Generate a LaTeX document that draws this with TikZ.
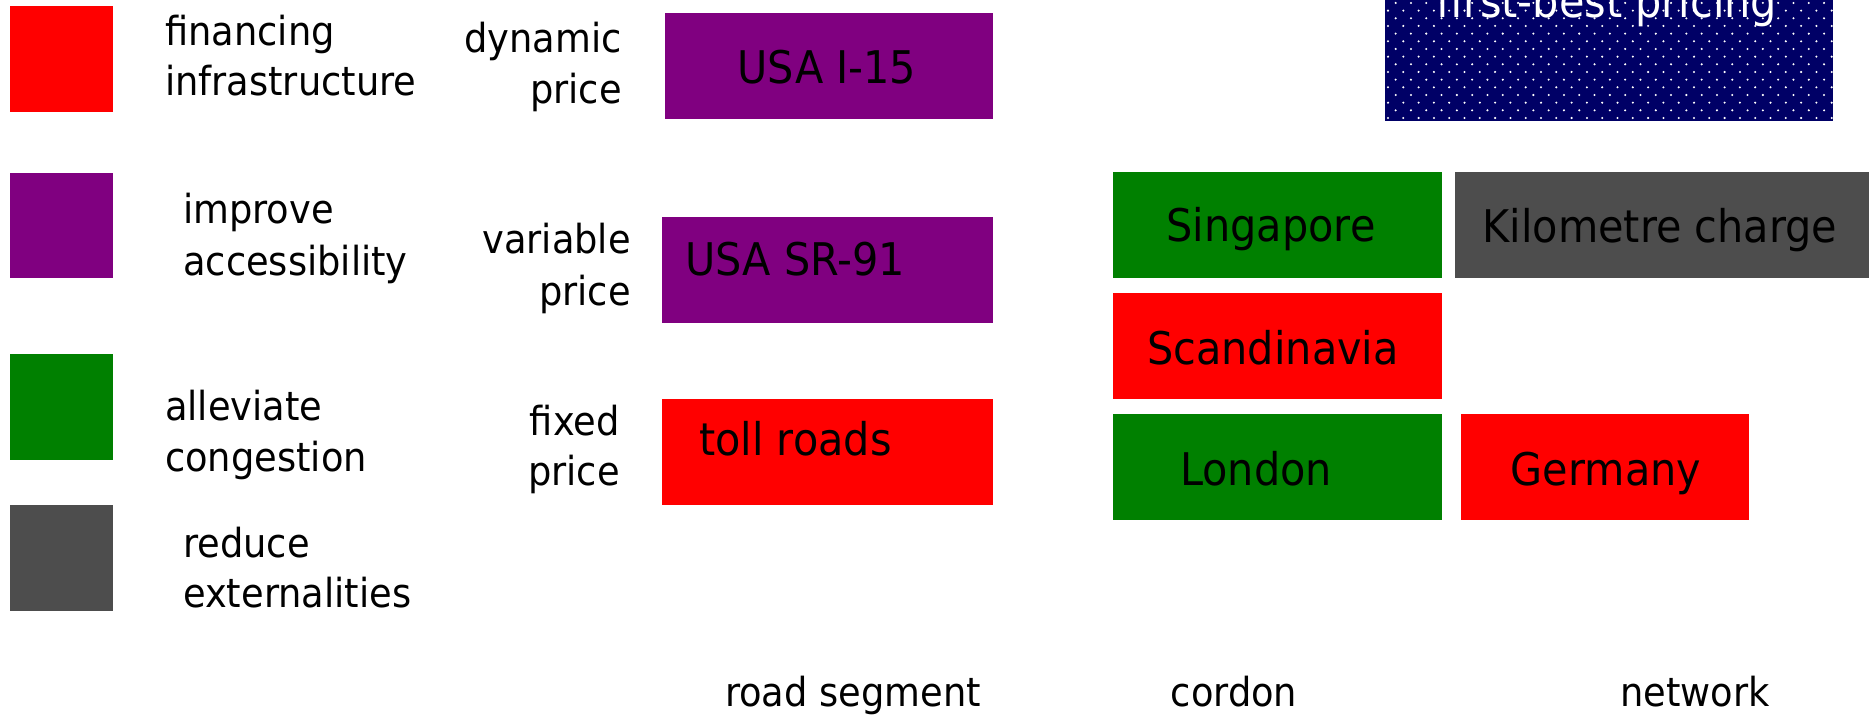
\documentclass[tikz,border=0pt]{standalone}
\usepackage{fontspec}
\setmainfont[FakeStretch=0.92]{DejaVu Sans}
\newcommand\mylblfont{\fontsize{40}{51}\selectfont}
\newcommand\myboxfont{\fontsize{45}{54}\selectfont}
\definecolor{cRed}{HTML}{FF0000}
\definecolor{cPurple}{HTML}{800080}
\definecolor{cGreen}{HTML}{008000}
\definecolor{cGray}{HTML}{4D4D4D}
\definecolor{cNavy}{HTML}{000066}
\begin{document}
\begin{tikzpicture}[x=1pt,y=-1pt,
  colbox/.style={rectangle, inner sep=0pt, outer sep=0pt, anchor=north west, draw=none},
  lbl/.style={inner sep=0pt, font=\mylblfont, text=black},
  btxt/.style={inner sep=0pt, font=\myboxfont, text=black}]
\useasboundingbox (0,0) rectangle (1869,715);

% legend squares
\node[colbox, fill=cRed,    minimum width=103pt, minimum height=106pt] (legRed)    at (10,6) {};
\node[colbox, fill=cPurple, minimum width=103pt, minimum height=105pt] (legPurple) at (10,173) {};
\node[colbox, fill=cGreen,  minimum width=103pt, minimum height=106pt] (legGreen)  at (10,354) {};
\node[colbox, fill=cGray,   minimum width=103pt, minimum height=106pt] (legGray)   at (10,505) {};

% legend labels
\node[lbl, anchor=base west] (legRedA) at (165,45) {financing};
\node[lbl, anchor=base west] (legRedB) at (165,95) {infrastructure};
\node[lbl, anchor=base west] (legPurA) at (183,223) {improve};
\node[lbl, anchor=base west] (legPurB) at (183,275) {accessibility};
\node[lbl, anchor=base west] (legGrnA) at (165,420) {alleviate};
\node[lbl, anchor=base west] (legGrnB) at (165,471) {congestion};
\node[lbl, anchor=base west] (legGryA) at (183,557) {reduce};
\node[lbl, anchor=base west] (legGryB) at (183,607) {externalities};

% price labels
\node[lbl, anchor=base east] (dynA) at (622,52) {dynamic};
\node[lbl, anchor=base east] (dynB) at (622,103) {price};
\node[lbl, anchor=base east] (varA) at (631,253) {variable};
\node[lbl, anchor=base east] (varB) at (631,305) {price};
\node[lbl, anchor=base east] (fixA) at (620,435) {fixed};
\node[lbl, anchor=base east] (fixB) at (620,485) {price};

% road segment boxes
\node[colbox, fill=cPurple, minimum width=328pt, minimum height=106pt] (i15)  at (665,13) {};
\node[colbox, fill=cPurple, minimum width=331pt, minimum height=106pt] (sr91) at (662,217) {};
\node[colbox, fill=cRed,    minimum width=331pt, minimum height=106pt] (toll) at (662,399) {};
\node[btxt, anchor=base] (i15t) at (827,83) {USA I-15};
\node[btxt, anchor=base west] (sr91t) at (685,275) {USA SR-91};
\node[btxt, anchor=base west] (tollt) at (699,455) {toll roads};

% cordon boxes
\node[colbox, fill=cGreen, minimum width=329pt, minimum height=106pt] (sing)  at (1113,172) {};
\node[colbox, fill=cRed,   minimum width=329pt, minimum height=106pt] (scand) at (1113,293) {};
\node[colbox, fill=cGreen, minimum width=329pt, minimum height=106pt] (lond)  at (1113,414) {};
\node[btxt, anchor=base] (singt)  at (1271,241) {Singapore};
\node[btxt, anchor=base] (scandt) at (1273,364) {Scandinavia};
\node[btxt, anchor=base] (londt)  at (1256,485) {London};

% network boxes
\node[colbox, fill=cGray, minimum width=420pt, minimum height=106pt] (km)   at (1455,172) {};
\node[colbox, fill=cRed,  minimum width=288pt, minimum height=106pt] (germ) at (1461,414) {};
\node[btxt, anchor=base] (kmt)   at (1660,242) {Kilometre charge};
\node[btxt, anchor=base] (germt) at (1606,485) {Germany};

% first-best pricing box
\node[colbox, fill=cNavy, minimum width=448pt, minimum height=141pt] (fb) at (1385,-20) {};
\begin{scope}
  \clip (fb.south west) rectangle (fb.north east);
  \foreach \r in {0,...,17}{
    \foreach \c in {0,...,30}{
      \fill[white] ({1388+15.3*\c+7.65*mod(\r,2)}, {118-7.67*\r}) circle (1.15);
    }
  }
\end{scope}
\node[btxt, anchor=base, text=white] (fbt) at (1607,17) {first-best pricing};

% axis labels
\node[lbl, anchor=base] (axRoad) at (853,706) {road segment};
\node[lbl, anchor=base] (axCord) at (1234,706) {cordon};
\node[lbl, anchor=base] (axNet)  at (1695,706) {network};
\end{tikzpicture}
\end{document}
